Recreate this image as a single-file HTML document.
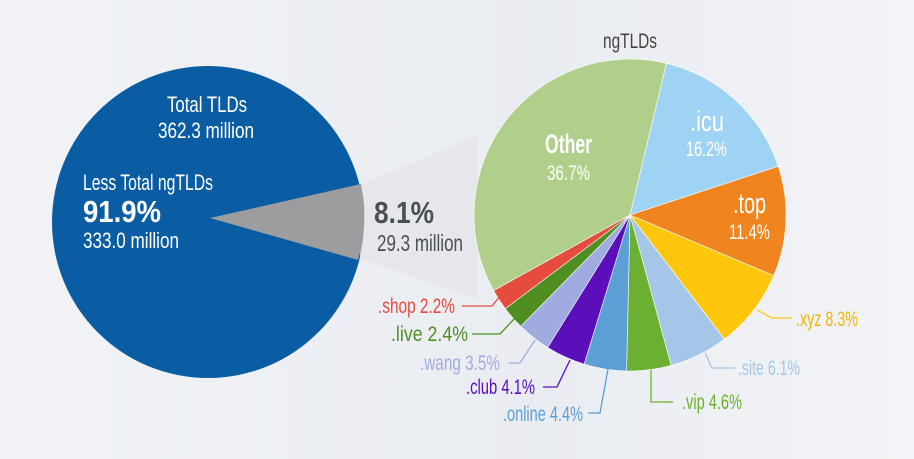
<!DOCTYPE html>
<html><head><meta charset="utf-8"><style>
html,body{margin:0;padding:0;width:914px;height:459px;overflow:hidden;background:#eef0f4}
svg{display:block}
text{font-family:"Liberation Sans",sans-serif}
</style></head><body>
<svg id="s" width="914" height="459" viewBox="0 0 914 459">
<defs><linearGradient id="bg" x1="0" y1="0" x2="1" y2="0"><stop offset="0" stop-color="#f1f3f6"/><stop offset="0.6" stop-color="#e9ecf1"/><stop offset="1" stop-color="#f3f4f7"/></linearGradient></defs>
<rect width="914" height="459" fill="url(#bg)"/>
<circle cx="208" cy="222" r="156" fill="#0a5da3"/>
<polygon points="360,185 478,135 478,300 360,258" fill="#e2e4e8" opacity="0.7"/>
<path d="M210,218 L361,184 A156,156 0 0 1 358,260 Z" fill="#9d9d9f"/>
<g id="pie"></g>
<g fill="#fff" font-size="22">
<text x="167" y="112" textLength="80" lengthAdjust="spacingAndGlyphs">Total TLDs</text>
<text x="158" y="138" textLength="96" lengthAdjust="spacingAndGlyphs">362.3 million</text>
<text x="83" y="190" textLength="130" lengthAdjust="spacingAndGlyphs">Less Total ngTLDs</text>
<text x="83" y="222" font-size="31" font-weight="bold" textLength="78" lengthAdjust="spacingAndGlyphs">91.9%</text>
<text x="83" y="248" textLength="96" lengthAdjust="spacingAndGlyphs">333.0 million</text>
</g>
<text x="374" y="223" font-size="31" font-weight="bold" fill="#4a4f56" textLength="60" lengthAdjust="spacingAndGlyphs">8.1%</text>
<text x="377" y="251" font-size="23" fill="#4a4f56" textLength="86" lengthAdjust="spacingAndGlyphs">29.3 million</text>
<text x="603" y="48" font-size="21" fill="#444" textLength="54" lengthAdjust="spacingAndGlyphs">ngTLDs</text>
<g fill="#fff">
<text x="545" y="153" font-size="27" font-weight="bold" textLength="47" lengthAdjust="spacingAndGlyphs">Other</text>
<text x="547" y="180" font-size="21" textLength="43" lengthAdjust="spacingAndGlyphs">36.7%</text>
<text x="690" y="131" font-size="29" textLength="34" lengthAdjust="spacingAndGlyphs">.icu</text>
<text x="686" y="156" font-size="21" textLength="41" lengthAdjust="spacingAndGlyphs">16.2%</text>
<text x="733" y="213" font-size="29" textLength="33" lengthAdjust="spacingAndGlyphs">.top</text>
<text x="729" y="239" font-size="21" textLength="41" lengthAdjust="spacingAndGlyphs">11.4%</text>
</g>
<g font-size="21" fill="none" stroke-width="1.3">
<polyline points="462,306 492,306 500,296" stroke="#e54c3c"/>
<text x="378" y="313" textLength="77" lengthAdjust="spacingAndGlyphs" fill="#e54c3c" stroke="none">.shop 2.2%</text>
<polyline points="472,334 500,334 515,318" stroke="#4f8f22"/>
<text x="391" y="341" textLength="77" lengthAdjust="spacingAndGlyphs" fill="#4f8f22" stroke="none">.live 2.4%</text>
<polyline points="509,363 520,363 535,340" stroke="#a0ace0"/>
<text x="420" y="370" textLength="80" lengthAdjust="spacingAndGlyphs" fill="#a0ace0" stroke="none">.wang 3.5%</text>
<polyline points="543,387 557,387 570,360" stroke="#5a0fbb"/>
<text x="466" y="394" textLength="69" lengthAdjust="spacingAndGlyphs" fill="#5a0fbb" stroke="none">.club 4.1%</text>
<polyline points="588,413 600,413 608,369" stroke="#5b9fd4"/>
<text x="503" y="421" textLength="80" lengthAdjust="spacingAndGlyphs" fill="#5b9fd4" stroke="none">.online 4.4%</text>
<polyline points="651,370 651,402 673,402" stroke="#6bb030"/>
<text x="682" y="409" textLength="60" lengthAdjust="spacingAndGlyphs" fill="#6bb030" stroke="none">.vip 4.6%</text>
<polyline points="705,353 712,368 735,368" stroke="#a6c6e8"/>
<text x="738" y="375" textLength="62" lengthAdjust="spacingAndGlyphs" fill="#a6c6e8" stroke="none">.site 6.1%</text>
<polyline points="757,310 772,318 792,318" stroke="#fec70e"/>
<text x="796" y="326" textLength="62" lengthAdjust="spacingAndGlyphs" fill="#f2b500" stroke="none">.xyz 8.3%</text>
</g>
</svg>
<script>
var data=[[16.2,"#9fd3f3"],[11.4,"#f0841e"],[8.3,"#fec70e"],[6.1,"#a6c6e8"],[4.6,"#6bb030"],[4.4,"#5b9fd4"],[4.1,"#5a0fbb"],[3.5,"#a0ace0"],[2.4,"#4f8f22"],[2.2,"#e54c3c"],[36.8,"#b0cf8a"]];
var cx=630,cy=215,r=156,a=13.5,g=document.getElementById("pie"),h="";
data.forEach(function(d){var b=a+d[0]*3.6;function p(t){t=t*Math.PI/180;return (cx+r*Math.sin(t)).toFixed(2)+","+(cy-r*Math.cos(t)).toFixed(2);}
h+='<path d="M'+cx+','+cy+' L'+p(a)+' A'+r+','+r+' 0 '+(b-a>180?1:0)+' 1 '+p(b)+' Z" fill="'+d[1]+'" stroke="#fff" stroke-width="0.6"/>';a=b;});
g.innerHTML=h;
</script>
</body></html>
